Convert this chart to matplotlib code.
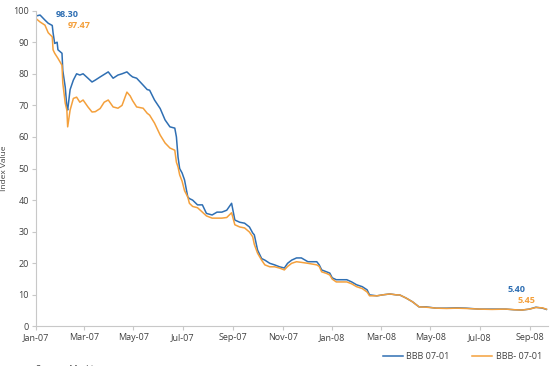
import numpy as np
import pandas as pd
import matplotlib
matplotlib.use("Agg")
import matplotlib.pyplot as plt
import matplotlib.dates as mdates

plt.rcParams['font.family'] = ['Open Sans', 'DejaVu Sans']

# dates shared by both series
dates = [
    "2007-01-01", "2007-01-06", "2007-01-12", "2007-01-16", "2007-01-21", "2007-01-22",
    "2007-01-24", "2007-01-27", "2007-01-28", "2007-02-02", "2007-02-03", "2007-02-06",
    "2007-02-08", "2007-02-09", "2007-02-12", "2007-02-16", "2007-02-20", "2007-02-24",
    "2007-02-28", "2007-03-06", "2007-03-11", "2007-03-15", "2007-03-21", "2007-03-26",
    "2007-03-31", "2007-04-06", "2007-04-12", "2007-04-17", "2007-04-23", "2007-04-27",
    "2007-04-30", "2007-05-05", "2007-05-13", "2007-05-18", "2007-05-21", "2007-05-27",
    "2007-06-03", "2007-06-09", "2007-06-15", "2007-06-21", "2007-06-23", "2007-06-25",
    "2007-06-27", "2007-06-30", "2007-07-03", "2007-07-07", "2007-07-09", "2007-07-13",
    "2007-07-19", "2007-07-25", "2007-07-30", "2007-08-06", "2007-08-12", "2007-08-18",
    "2007-08-24", "2007-08-30", "2007-09-03", "2007-09-09", "2007-09-15", "2007-09-21",
    "2007-09-25", "2007-09-27", "2007-10-01", "2007-10-06", "2007-10-10", "2007-10-16",
    "2007-10-22", "2007-10-28", "2007-11-03", "2007-11-07", "2007-11-12", "2007-11-18",
    "2007-11-24", "2007-12-02", "2007-12-13", "2007-12-16", "2007-12-19", "2007-12-25",
    "2007-12-29", "2008-01-01", "2008-01-06", "2008-01-19", "2008-01-25", "2008-01-31",
    "2008-02-07", "2008-02-13", "2008-02-16", "2008-02-25", "2008-03-03", "2008-03-12",
    "2008-03-20", "2008-03-24", "2008-04-01", "2008-04-09", "2008-04-17", "2008-04-26",
    "2008-05-08", "2008-05-21", "2008-06-02", "2008-06-14", "2008-06-30", "2008-07-16",
    "2008-08-02", "2008-08-12", "2008-08-22", "2008-08-31", "2008-09-08", "2008-09-16",
    "2008-09-21",
]

bbb = [
    98.30, 98.6, 97.0, 96.0, 95.3, 93.0,
    89.6, 90.0, 87.6, 86.5, 81.0, 75.8,
    69.5, 68.5, 75.0, 78.0, 80.0, 79.6,
    80.0, 78.6, 77.4, 78.0, 79.0, 79.8,
    80.6, 78.6, 79.6, 80.0, 80.6, 79.6,
    79.0, 78.6, 76.4, 75.0, 74.8, 71.7,
    69.0, 65.4, 63.2, 62.8, 60.0, 53.6,
    50.0, 48.6, 46.4, 41.0, 40.5, 40.0,
    38.5, 38.5, 35.8, 35.3, 36.2, 36.2,
    36.8, 39.0, 33.7, 33.0, 32.7, 31.5,
    29.6, 29.0, 24.2, 21.5, 21.0, 20.0,
    19.5, 18.9, 18.5, 20.0, 21.0, 21.7,
    21.7, 20.5, 20.5, 19.5, 17.9, 17.3,
    16.9, 15.4, 14.8, 14.8, 14.1, 13.2,
    12.6, 11.6, 10.0, 9.7, 10.0, 10.3,
    10.0, 10.0, 9.0, 7.8, 6.2, 6.2,
    5.8, 5.8, 5.9, 5.8, 5.5, 5.5,
    5.5, 5.3, 5.2, 5.5, 6.1, 5.8,
    5.40,
]

bbb_minus = [
    97.47, 96.4, 95.4, 93.0, 91.7, 87.6,
    86.5, 85.3, 84.9, 82.7, 77.0, 70.7,
    68.5, 63.2, 68.5, 72.2, 72.6, 71.0,
    71.7, 69.5, 67.9, 68.0, 69.0, 71.0,
    71.7, 69.5, 69.1, 70.0, 74.2, 73.0,
    71.5, 69.5, 69.1, 67.5, 66.9, 64.4,
    60.6, 58.1, 56.5, 55.8, 52.0, 50.5,
    48.0, 46.0, 43.0, 41.0, 39.0, 38.0,
    37.6, 36.2, 35.0, 34.3, 34.3, 34.3,
    34.5, 36.0, 32.2, 31.5, 31.2, 29.9,
    28.4, 26.0, 23.2, 21.0, 19.5, 18.9,
    18.9, 18.5, 17.9, 19.0, 20.0, 20.5,
    20.3, 20.0, 19.5, 19.0, 17.3, 16.8,
    16.3, 15.0, 14.1, 14.1, 13.5, 12.6,
    12.0, 10.9, 9.7, 9.7, 10.0, 10.3,
    10.0, 10.0, 9.0, 7.8, 6.2, 6.1,
    5.8, 5.7, 5.8, 5.7, 5.5, 5.4,
    5.5, 5.3, 5.2, 5.5, 6.0, 5.9,
    5.45,
]

series_names = ["BBB 07-01", "BBB- 07-01"]
blue = '#2f6fb3'
orange = '#f4a03c'

x = pd.to_datetime(dates)

fig = plt.figure(figsize=(5.5, 3.66), dpi=100)
ax = fig.add_axes([0.0655, 0.108, 0.931, 0.863])

ax.plot(x, bbb, color=blue, lw=1.1, label=series_names[0])
ax.plot(x, bbb_minus, color=orange, lw=1.1, label=series_names[1])

ax.set_ylim(0, 100)
ax.set_yticks(np.arange(0, 101, 10))
ax.set_xlim(pd.Timestamp("2007-01-01"), pd.Timestamp("2008-09-23"))
ax.xaxis.set_major_locator(mdates.MonthLocator(bymonth=[1, 3, 5, 7, 9, 11]))
ax.xaxis.set_major_formatter(mdates.DateFormatter('%b-%y'))

for s in ['top', 'right']:
    ax.spines[s].set_visible(False)
for s in ['left', 'bottom']:
    ax.spines[s].set_color('#c8c8c8')
    ax.spines[s].set_linewidth(0.8)
ax.tick_params(axis='both', colors='#c8c8c8', labelcolor='#404040',
               labelsize=6.5, length=3, width=0.8, pad=2)
ax.set_ylabel("Index Value", fontsize=6, color='#404040', labelpad=4)

# first / last value labels
ax.annotate(f"{bbb[0]:.2f}", (x[0], bbb[0]), xytext=(14, 1), textcoords='offset points',
            color=blue, fontsize=6.5, fontweight='bold', va='center')
ax.annotate(f"{bbb_minus[0]:.2f}", (x[0], bbb_minus[0]), xytext=(23, -5), textcoords='offset points',
            color=orange, fontsize=6.5, fontweight='bold', va='center')
ax.annotate(f"{bbb[-1]:.2f}", (x[-1], bbb[-1]), xytext=(-28, 14), textcoords='offset points',
            color=blue, fontsize=6.5, fontweight='bold', va='center')
ax.annotate(f"{bbb_minus[-1]:.2f}", (x[-1], bbb_minus[-1]), xytext=(-21, 6), textcoords='offset points',
            color=orange, fontsize=6.5, fontweight='bold', va='center')

fig.legend(loc='center right', bbox_to_anchor=(1.0, 0.025), ncol=2, frameon=False,
           fontsize=6.5, handlelength=2.2, columnspacing=2.5, handletextpad=0.4,
           labelcolor='#404040')

fig.text(0.065, 0.004, "Source: Markit", fontsize=6.5, color='#404040', va='top')

fig.savefig("out.png", dpi=100)
